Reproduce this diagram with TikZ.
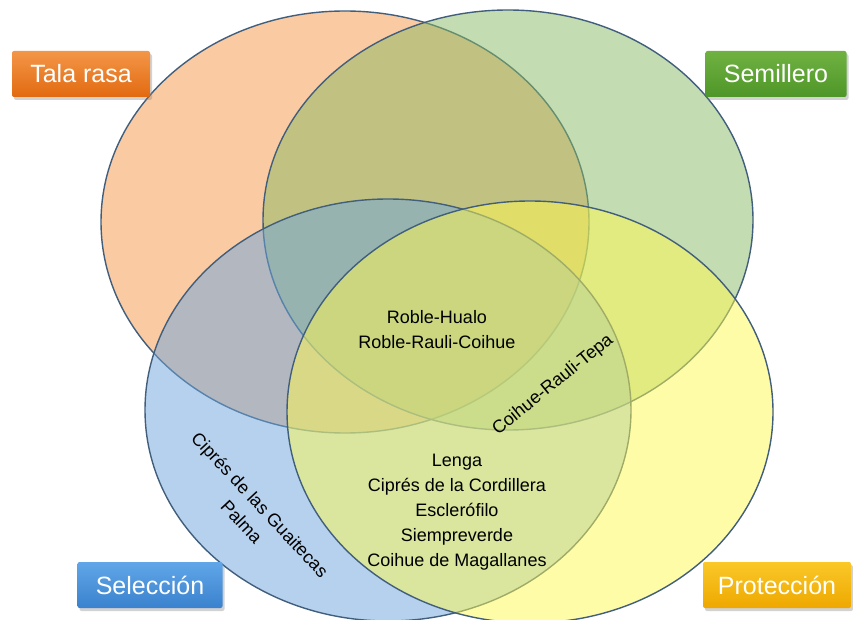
\documentclass[tikz,border=0pt]{standalone}
\usepackage{fontspec}
\setmainfont{Liberation Sans}
\usetikzlibrary{shadows}
\definecolor{outl}{RGB}{65,95,125}
\definecolor{orF}{RGB}{247,150,70}
\definecolor{grF}{RGB}{137,187,100}
\definecolor{blF}{RGB}{110,165,220}
\definecolor{yeF}{RGB}{255,250,80}
\definecolor{orT}{RGB}{243,150,72}
\definecolor{orB}{RGB}{226,106,16}
\definecolor{grT}{RGB}{112,178,66}
\definecolor{grB}{RGB}{78,150,40}
\definecolor{blT}{RGB}{96,166,232}
\definecolor{blB}{RGB}{58,130,206}
\definecolor{yeT}{RGB}{250,200,40}
\definecolor{yeB}{RGB}{238,168,0}
\tikzset{
  setshape/.style={draw=outl, line width=1.4pt, fill opacity=0.5},
  labelbox/.style={rounded corners=2pt, minimum height=46pt, text=white,
    font=\fontsize{25}{28}\selectfont,
    drop shadow={opacity=0.35, shadow xshift=2pt, shadow yshift=-3pt}},
  species/.style={align=center, text=black, font=\fontsize{18}{25}\selectfont, inner sep=0pt}
}
\begin{document}
\begin{tikzpicture}[x=1pt,y=-1pt]
\useasboundingbox (0,0) rectangle (853,620);
\fill[white] (0,0) rectangle (853,620);
% sets
\draw[setshape, fill=orF] (345,222) ellipse [x radius=244pt, y radius=211pt];
\draw[setshape, fill=grF] (508,220) ellipse [x radius=245pt, y radius=210pt];
\draw[setshape, fill=blF] (388,410) ellipse [x radius=243pt, y radius=211pt];
\draw[setshape, fill=yeF] (530,412) ellipse [x radius=243pt, y radius=211pt];
% labels
\node[labelbox, minimum width=138pt, top color=orT, bottom color=orB] (tala) at (81,74) {Tala rasa};
\node[labelbox, minimum width=141pt, top color=grT, bottom color=grB] (semi) at (776,74) {Semillero};
\node[labelbox, minimum width=145pt, top color=blT, bottom color=blB] (sele) at (150,585) {Selección};
\node[labelbox, minimum width=148pt, top color=yeT, bottom color=yeB] (prot) at (777,585) {Protección};
% species
\node[species] (rh) at (437,330) {Roble-Hualo\\Roble-Rauli-Coihue};
\node[species, rotate=39] (crt) at (553,385) {Coihue-Rauli-Tepa};
\node[species] (lg) at (457,512) {Lenga\\Ciprés de la Cordillera\\Esclerófilo\\Siempreverde\\Coihue de Magallanes};
\node[species, rotate=-47] (cg) at (251,513) {Ciprés de las Guaitecas\\Palma};
\end{tikzpicture}
\end{document}
